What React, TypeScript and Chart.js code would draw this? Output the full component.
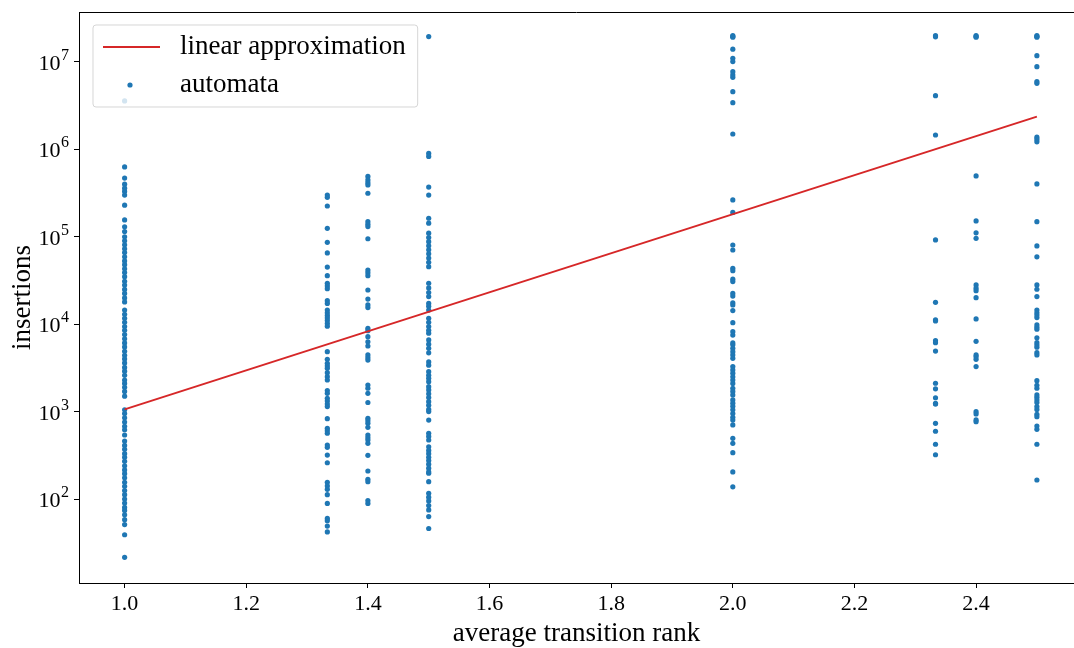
import React, { useEffect, useRef } from "react";
import { Chart, registerables } from "chart.js";

Chart.register(...registerables);

const FONT = "'Liberation Serif', 'DejaVu Serif', serif";

// average transition rank of each column of automata
const ranks = [1.0, 1.3333, 1.4, 1.5, 2.0, 2.3333, 2.4, 2.5];

// insertions per automaton, one list per rank column
const insRank1_0 = [
  3.58e6, 6.3e5, 4.7e5, 4.0e5, 3.6e5, 3.3e5, 3.0e5, 2.3e5, 1.56e5, 1.3e5, 1.15e5,
  1.0e5, 9.0e4, 8.1e4, 7.3e4, 6.6e4, 5.9e4, 5.3e4, 4.8e4, 4.3e4, 3.9e4, 3.5e4, 3.1e4,
  2.8e4, 2.5e4, 2.25e4, 2.0e4, 1.8e4, 1.45e4, 1.3e4, 1.17e4, 1.05e4, 9.4e3, 8.5e3,
  7.6e3, 6.8e3, 6.1e3, 5.5e3, 4.9e3, 4.4e3, 4.0e3, 3.6e3, 3.2e3, 2.9e3, 2.6e3, 2.3e3,
  2.1e3, 1.9e3, 1.7e3, 1.5e3, 1.05e3, 950, 850, 760, 680, 620, 540, 460, 410, 370,
  330, 300, 270, 240, 215, 195, 175, 155, 140, 125, 112, 100, 90, 80, 74, 66, 58, 51,
  39, 21.5,
];
const insRank1_33 = [
  3.0e5, 2.83e5, 2.25e5, 1.25e5, 8.65e4, 6.53e4, 4.5e4, 3.59e4, 2.94e4, 2.74e4, 2.55e4,
  1.86e4, 1.73e4, 1.45e4, 1.35e4, 1.26e4, 1.18e4, 1.1e4, 1.02e4, 9.5e3, 4.85e3, 3.96e3,
  3.57e3, 3.33e3, 3.13e3, 2.79e3, 2.51e3, 2.3e3, 1.74e3, 1.62e3, 1.42e3, 1.32e3, 1.22e3,
  1.14e3, 830, 644, 605, 565, 415, 390, 318, 260, 155, 141, 129, 112, 89, 60, 56.5, 49, 42,
];
const insRank1_4 = [
  4.9e5, 4.47e5, 4.16e5, 3.92e5, 3.15e5, 1.49e5, 1.39e5, 1.31e5, 9.5e4, 4.17e4, 3.88e4,
  3.59e4, 2.46e4, 1.94e4, 1.66e4, 1.55e4, 8.97e3, 8.44e3, 7.2e3, 6.3e3, 5.63e3, 4.45e3,
  4.14e3, 3.89e3, 2.01e3, 1.85e3, 1.62e3, 1.27e3, 838, 787, 735, 661, 540, 503, 473,
  434, 316, 209, 168, 158, 96, 89,
];
const insRank1_5 = [
  1.95e7, 9.0e5, 8.3e5, 3.7e5, 3.0e5, 1.63e5, 1.43e5, 1.1e5, 9.8e4, 8.8e4, 7.9e4, 7.1e4,
  6.4e4, 5.7e4, 5.1e4, 4.55e4, 2.94e4, 2.6e4, 2.3e4, 2.07e4, 1.73e4, 1.6e4, 1.45e4,
  1.17e4, 1.05e4, 9.4e3, 8.5e3, 7.9e3, 6.6e3, 5.9e3, 5.3e3, 4.7e3, 3.7e3, 3.4e3, 2.86e3,
  2.6e3, 2.4e3, 2.2e3, 1.93e3, 1.77e3, 1.6e3, 1.45e3, 1.3e3, 1.18e3, 1.06e3, 1.0e3, 800,
  565, 520, 473, 396, 360, 330, 300, 275, 250, 225, 205, 197, 158, 116, 105, 95, 84, 75,
  63, 46,
];
const insRank2_0 = [
  2.0e7, 1.96e7, 1.92e7, 1.4e7, 1.1e7, 1.01e7, 7.75e6, 7.1e6, 6.68e6, 4.57e6, 3.42e6,
  1.5e6, 2.64e5, 1.9e5, 8.05e4, 7.06e4, 4.36e4, 4.1e4, 3.27e4, 3.07e4, 2.25e4, 2.1e4,
  1.76e4, 1.66e4, 1.43e4, 1.04e4, 8.2e3, 7.5e3, 6.1e3, 5.8e3, 5.3e3, 4.85e3, 4.45e3,
  4.07e3, 3.27e3, 3.0e3, 2.75e3, 2.5e3, 2.3e3, 2.1e3, 1.85e3, 1.7e3, 1.55e3, 1.36e3,
  1.25e3, 1.15e3, 1.05e3, 950, 860, 800, 703, 494, 434, 339, 204, 138,
];
const insRank2_33 = [
  2.0e7, 1.94e7, 4.12e6, 1.46e6, 9.2e4, 1.78e4, 1.12e4, 1.09e4, 6.47e3, 6.14e3, 4.93e3,
  2.11e3, 1.82e3, 1.44e3, 1.24e3, 1.22e3, 735, 596, 423, 321,
];
const insRank2_4 = [
  2.0e7, 1.96e7, 1.92e7, 4.97e5, 1.52e5, 1.11e5, 9.6e4, 2.81e4, 2.58e4, 2.42e4, 2.01e4,
  1.15e4, 6.37e3, 4.45e3, 4.25e3, 3.96e3, 3.27e3, 998, 940, 802, 766,
];
const insRank2_5 = [
  2.0e7, 1.96e7, 1.92e7, 1.18e7, 8.84e6, 5.96e6, 5.7e6, 1.38e6, 1.3e6, 1.22e6, 4.02e5,
  1.49e5, 7.85e4, 5.9e4, 2.81e4, 2.51e4, 2.07e4, 1.45e4, 1.35e4, 1.27e4, 1.19e4, 9.8e3,
  9.2e3, 8.75e3, 7.0e3, 6.14e3, 5.78e3, 5.45e3, 4.72e3, 4.45e3, 2.26e3, 2.0e3, 1.85e3,
  1.55e3, 1.46e3, 1.36e3, 1.27e3, 1.14e3, 1.06e3, 931, 875, 684, 627, 423, 165,
];

const columns = [
  insRank1_0, insRank1_33, insRank1_4, insRank1_5,
  insRank2_0, insRank2_33, insRank2_4, insRank2_5,
];

// linear approximation (straight line in log space) end points
const fitX = [1.0, 2.5];
const fitY = [1060, 2.37e6];

const xTickValues = [1.0, 1.2, 1.4, 1.6, 1.8, 2.0, 2.2, 2.4];
const yTickValues = [1e2, 1e3, 1e4, 1e5, 1e6, 1e7];

const TEXT_SIZE = 27;
const TICK_SIZE = 22;

const zeroPad = (s: any) => {
  s.paddingLeft = 0;
  s.paddingRight = 0;
  s.paddingTop = 0;
  s.paddingBottom = 0;
};

const topSpinePlugin = {
  id: "topSpine",
  afterDatasetsDraw(chart: any) {
    const { ctx, chartArea } = chart;
    ctx.save();
    ctx.strokeStyle = "#000";
    ctx.lineWidth = 1;
    ctx.beginPath();
    ctx.moveTo(chartArea.left, chartArea.top + 0.5);
    ctx.lineTo(chart.width, chartArea.top + 0.5);
    ctx.stroke();
    ctx.restore();
  },
};

// y tick labels as 10 with a raised exponent, placed by the y scale
const powerLabelsPlugin = {
  id: "powerLabels",
  afterDraw(chart: any) {
    const { ctx } = chart;
    const y = chart.scales.y;
    ctx.save();
    ctx.fillStyle = "#000";
    ctx.textAlign = "right";
    ctx.textBaseline = "alphabetic";
    const xr = y.right - 10;
    y.ticks.forEach((t: any) => {
      const py = y.getPixelForValue(t.value);
      const exp = String(Math.round(Math.log10(t.value)));
      ctx.font = `16px ${FONT}`;
      const ew = ctx.measureText(exp).width;
      ctx.fillText(exp, xr, py - 2);
      ctx.font = `${TICK_SIZE}px ${FONT}`;
      ctx.fillText("10", xr - ew - 0.5, py + 8);
    });
    ctx.restore();
  },
};

const mplLegendPlugin = {
  id: "mplLegend",
  afterDatasetsDraw(chart: any) {
    const { ctx, chartArea } = chart;
    const ds = chart.data.datasets;
    ctx.save();
    ctx.font = `${TEXT_SIZE}px ${FONT}`;
    const x0 = chartArea.left + 14;
    const y0 = chartArea.top + 13;
    const textX = chartArea.left + 101;
    const maxW = Math.max(...ds.map((d: any) => ctx.measureText(d.label).width));
    const w = textX - x0 + maxW + 12;
    const h = 82;
    const r = 3;
    ctx.beginPath();
    ctx.moveTo(x0 + r, y0);
    ctx.lineTo(x0 + w - r, y0);
    ctx.arcTo(x0 + w, y0, x0 + w, y0 + r, r);
    ctx.lineTo(x0 + w, y0 + h - r);
    ctx.arcTo(x0 + w, y0 + h, x0 + w - r, y0 + h, r);
    ctx.lineTo(x0 + r, y0 + h);
    ctx.arcTo(x0, y0 + h, x0, y0 + h - r, r);
    ctx.lineTo(x0, y0 + r);
    ctx.arcTo(x0, y0, x0 + r, y0, r);
    ctx.closePath();
    ctx.globalAlpha = 0.8;
    ctx.fillStyle = "#ffffff";
    ctx.fill();
    ctx.strokeStyle = "#cccccc";
    ctx.lineWidth = 1;
    ctx.stroke();
    ctx.globalAlpha = 1;
    ds.forEach((d: any, i: number) => {
      const cy = y0 + 22 + i * 38;
      if (d.showLine) {
        ctx.strokeStyle = d.borderColor;
        ctx.lineWidth = d.borderWidth;
        ctx.beginPath();
        ctx.moveTo(x0 + 10, cy);
        ctx.lineTo(x0 + 67, cy);
        ctx.stroke();
      } else {
        ctx.fillStyle = d.backgroundColor;
        ctx.beginPath();
        ctx.arc(x0 + 37, cy, d.pointRadius, 0, Math.PI * 2);
        ctx.fill();
      }
      ctx.fillStyle = "#000";
      ctx.textBaseline = "middle";
      ctx.textAlign = "left";
      ctx.fillText(d.label, textX, cy);
    });
    ctx.restore();
  },
};

export default function App() {
  const canvasRef = useRef<HTMLCanvasElement | null>(null);

  useEffect(() => {
    if (!canvasRef.current) return;
    Chart.defaults.font.family = FONT;
    Chart.defaults.color = "#000";

    const points: { x: number; y: number }[] = [];
    columns.forEach((col, i) => col.forEach((v) => points.push({ x: ranks[i], y: v })));
    const fit = fitX.map((x, i) => ({ x, y: fitY[i] }));

    const chart = new Chart(canvasRef.current, {
      type: "scatter",
      data: {
        datasets: [
          {
            label: "linear approximation",
            data: fit,
            showLine: true,
            borderColor: "#d62728",
            backgroundColor: "#d62728",
            borderWidth: 2,
            pointRadius: 0,
          } as any,
          {
            label: "automata",
            data: points,
            showLine: false,
            backgroundColor: "#1f77b4",
            borderColor: "#1f77b4",
            borderWidth: 0,
            pointRadius: 2.6,
          } as any,
        ],
      },
      plugins: [topSpinePlugin, powerLabelsPlugin, mplLegendPlugin],
      options: {
        animation: false,
        responsive: false,
        layout: { autoPadding: false, padding: { top: 12, right: 0, bottom: 0, left: 0 } },
        plugins: { legend: { display: false }, tooltip: { enabled: false } },
        scales: {
          x: {
            type: "linear",
            min: 0.925,
            max: 2.561,
            afterBuildTicks: (s: any) => {
              s.ticks = xTickValues.map((v) => ({ value: v }));
            },
            afterFit: (s: any) => {
              s.height = 65;
              zeroPad(s);
            },
            grid: {
              drawOnChartArea: false,
              drawTicks: true,
              tickLength: 5,
              color: "#000",
              lineWidth: 1,
            },
            border: { display: true, color: "#000", width: 1 },
            ticks: {
              padding: 3,
              font: { size: TICK_SIZE },
              color: "#000",
              maxRotation: 0,
              callback: (v: any) => Number(v).toFixed(1),
            },
            title: {
              display: true,
              text: "average transition rank",
              font: { size: TEXT_SIZE, lineHeight: 1 },
              color: "#000",
              padding: { top: 0, bottom: 1 },
            },
          },
          y: {
            type: "logarithmic",
            min: 10.94,
            max: 3.73e7,
            afterBuildTicks: (s: any) => {
              s.ticks = yTickValues.map((v) => ({ value: v, major: true }));
            },
            afterFit: (s: any) => {
              s.width = 79;
              zeroPad(s);
            },
            grid: {
              drawOnChartArea: false,
              drawTicks: true,
              tickLength: 5,
              color: "#000",
              lineWidth: 1,
            },
            border: { display: true, color: "#000", width: 1 },
            ticks: { display: false },
            title: {
              display: true,
              text: "insertions",
              font: { size: TEXT_SIZE, lineHeight: 1 },
              color: "#000",
              padding: { top: 9, bottom: 0 },
            },
          },
        },
      },
    });
    return () => chart.destroy();
  }, []);

  return (
    <div style={{ position: "fixed", left: 0, top: 0, width: 1074, height: 648, background: "#fff" }}>
      <canvas ref={canvasRef} width={1074} height={648} style={{ display: "block" }} />
    </div>
  );
}
